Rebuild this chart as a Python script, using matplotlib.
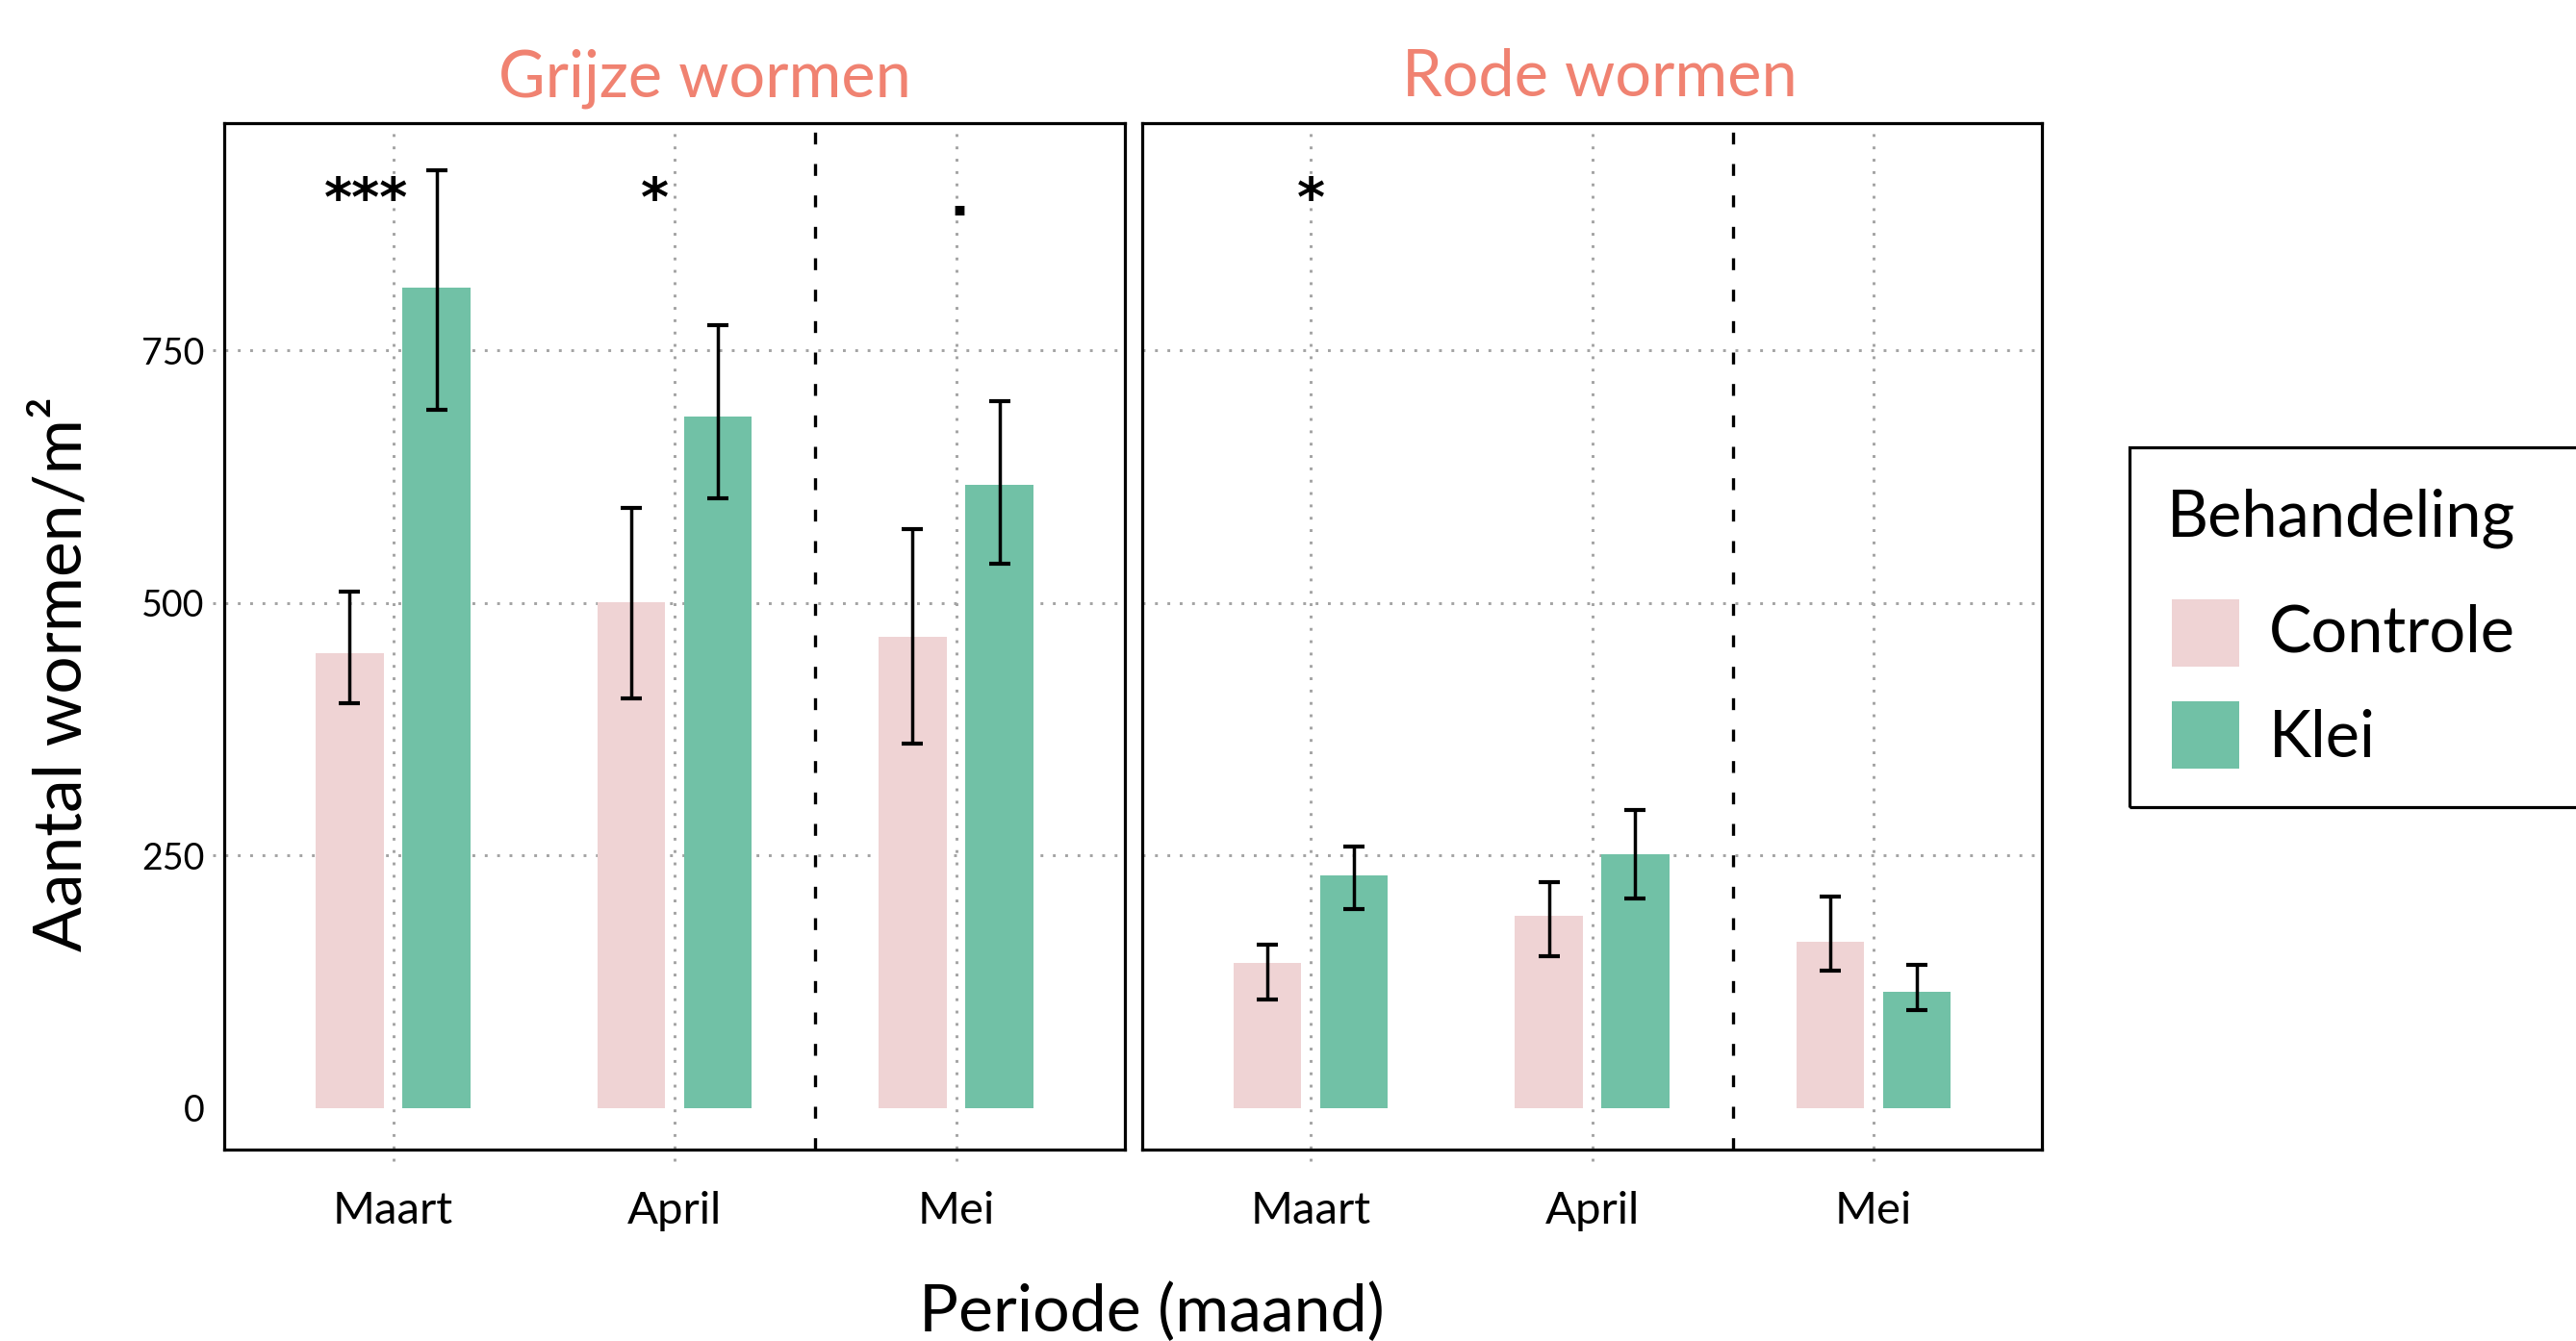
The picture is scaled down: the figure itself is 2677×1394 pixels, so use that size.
import numpy as np
import matplotlib
matplotlib.use("Agg")
import matplotlib.pyplot as plt
from matplotlib.patches import Rectangle

plt.rcParams['font.family'] = ['Lato', 'DejaVu Sans']

# --- data ---
maanden = ['Maart', 'April', 'Mei']
groepen = ['Grijze wormen', 'Rode wormen']
behandelingen = ['Controle', 'Klei']

grijs_controle = [450, 501, 467]
grijs_controle_lo = [401, 406, 361]
grijs_controle_hi = [511, 594, 573]
grijs_klei = [812, 685, 617]
grijs_klei_lo = [691, 604, 539]
grijs_klei_hi = [928, 775, 700]

rood_controle = [144, 190, 165]
rood_controle_lo = [108, 150, 136]
rood_controle_hi = [162, 224, 209]
rood_klei = [230, 251, 115]
rood_klei_lo = [197, 208, 97]
rood_klei_hi = [259, 295, 142]

grijs_sig = ['***', '*', '.']
grijs_sig_x = [0.904, 1.929, 3.01]
rood_sig = ['*']
rood_sig_x = [1.0]
sig_y = 884

kleuren = {'Controle': '#EFD3D4', 'Klei': '#71C1A6'}
titel_kleur = '#F08271'
grid_kleur = '#A3A3A3'

W, H = 2677, 1394
fig = plt.figure(figsize=(W / 100, H / 100), dpi=100)

ax1 = fig.add_axes([233 / W, 1 - 1195 / H, 936 / W, 1067 / H])
ax2 = fig.add_axes([1187 / W, 1 - 1195 / H, 935 / W, 1067 / H])

panelen = [
    (ax1, grijs_controle, grijs_controle_lo, grijs_controle_hi,
     grijs_klei, grijs_klei_lo, grijs_klei_hi, grijs_sig, grijs_sig_x, 0.534),
    (ax2, rood_controle, rood_controle_lo, rood_controle_hi,
     rood_klei, rood_klei_lo, rood_klei_hi, rood_sig, rood_sig_x, 0.508),
]

dotted = (0, (1.0, 3.4))
x = np.arange(1, len(maanden) + 1)
dx = 0.154
bw = 0.24

for i, (ax, c, clo, chi, k, klo, khi, sig, sigx, tx) in enumerate(panelen):
    ax.set_xlim(0.4, 3.6)
    ax.set_ylim(-41, 975)

    # gridlijnen (met stippel-ticks buiten het paneel)
    tick_x = 12 / 936 if i == 0 else 0
    for y in [250, 500, 750]:
        ax.axhline(y, xmin=-tick_x, xmax=1, color=grid_kleur, lw=2.1,
                   linestyle=dotted, dash_capstyle='butt', clip_on=False, zorder=1)
    for xi in x:
        ax.axvline(xi, ymin=-12 / 1067, ymax=1, color=grid_kleur, lw=2.1,
                   linestyle=dotted, dash_capstyle='butt', clip_on=False, zorder=1)

    ax.bar(x - dx, c, width=bw, color=kleuren['Controle'], zorder=2)
    ax.bar(x + dx, k, width=bw, color=kleuren['Klei'], zorder=2)

    c = np.array(c); k = np.array(k)
    ax.errorbar(x - dx, c, yerr=[c - np.array(clo), np.array(chi) - c], fmt='none',
                ecolor='black', elinewidth=2.5, capsize=7.9, capthick=3.0, zorder=3)
    ax.errorbar(x + dx, k, yerr=[k - np.array(klo), np.array(khi) - k], fmt='none',
                ecolor='black', elinewidth=2.5, capsize=7.9, capthick=3.0, zorder=3)

    ax.axvline(2.5, color='black', lw=2.4, linestyle=(0, (3.7, 6.1)), zorder=3)

    for s, sx in zip(sig, sigx):
        ax.text(sx, sig_y, s, ha='center', va='baseline', fontsize=40, color='black',
                family=['DejaVu Sans'], fontweight='bold')

    ax.set_title(groepen[i], x=tx, y=1.0262, pad=0, fontsize=48, color=titel_kleur,
                 va='baseline')

    ax.set_xticks(x)
    ax.set_xticklabels(maanden, fontsize=34)
    ax.tick_params(axis='x', length=0, pad=31)
    if i == 0:
        ax.set_yticks([0, 250, 500, 750])
        ax.set_yticklabels(['0', '250', '500', '750'], fontsize=27)
        ax.tick_params(axis='y', length=0, pad=15)
    else:
        ax.set_yticks([])
    for sp in ax.spines.values():
        sp.set_linewidth(2.3)
        sp.set_color('black')
        sp.set_zorder(4)

fig.text(85 / W, 1 - 700 / H, 'Aantal wormen/m²', rotation=90, rotation_mode='anchor',
         ha='center', va='baseline', fontsize=50)
fig.text(1197 / W, 1 - 1384 / H, 'Periode (maand)', ha='center', va='baseline', fontsize=49)

# legenda
fig.add_artist(Rectangle((2213 / W, 1 - 839 / H), (2720 - 2213) / W, (839 - 465) / H,
                         transform=fig.transFigure, fill=False, lw=2.3, ec='black'))
fig.text(2252 / W, 1 - 558 / H, 'Behandeling', va='baseline', fontsize=48)
for j, (b, base) in enumerate(zip(behandelingen, [677.7, 786.7])):
    top = 623 + j * 106
    fig.add_artist(Rectangle((2257 / W, 1 - (top + 70) / H), 70 / W, 70 / H,
                             transform=fig.transFigure, fc=kleuren[b], ec='none'))
    fig.text(2358 / W, 1 - base / H, b, va='baseline', fontsize=48)

fig.savefig('out.png', dpi=100)
